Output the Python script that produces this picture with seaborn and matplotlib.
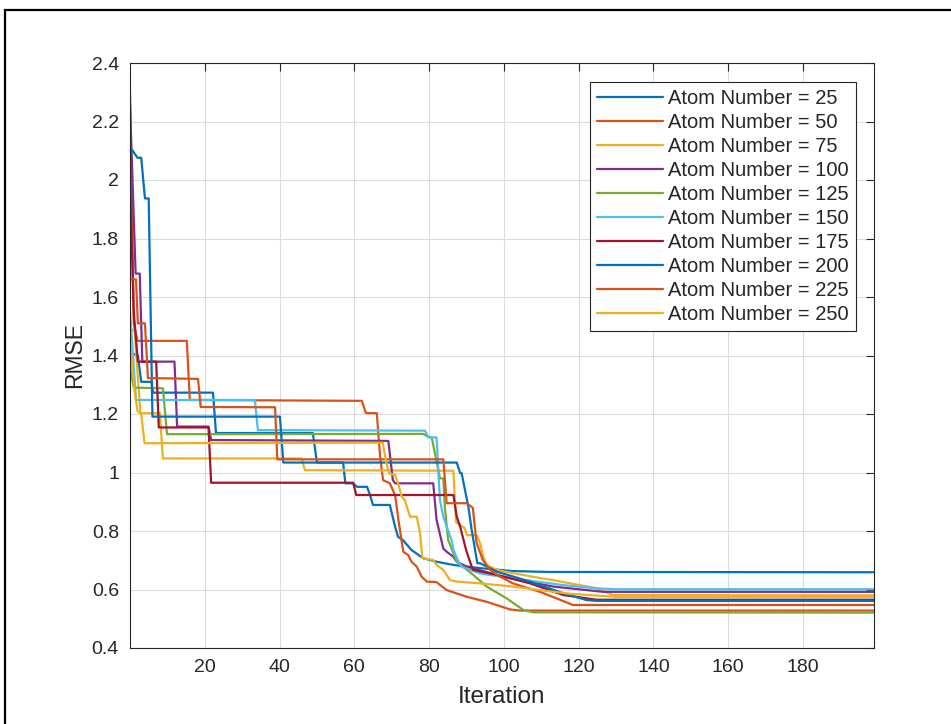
import matplotlib
matplotlib.use("Agg")
import matplotlib.pyplot as plt
from matplotlib.patches import Rectangle
import seaborn as sns
import pandas as pd

# ---------------- data ----------------
labels = ["Atom Number = 25", "Atom Number = 50", "Atom Number = 75",
          "Atom Number = 100", "Atom Number = 125", "Atom Number = 150",
          "Atom Number = 175", "Atom Number = 200", "Atom Number = 225",
          "Atom Number = 250"]
colors = ["#0072BD", "#D95319", "#EDB120", "#7E2F8E", "#77AC30",
          "#4DBEEE", "#A2142F", "#0072BD", "#D95319", "#EDB120"]

x25 = [0, 2.1, 3.0, 5.7, 6.2, 22.2, 23.0, 48.9, 50.0, 57.0, 57.6, 59.7, 60.7, 63.4,
       64.2, 65.0, 69.5, 70.9, 71.7, 73.0, 75.3, 78.4, 82.0, 86.5, 93.6, 102.4, 112, 199]
y25 = [1.41, 1.40, 1.31, 1.31, 1.273, 1.273, 1.135, 1.135, 1.034, 1.034, 0.963, 0.963,
       0.951, 0.951, 0.923, 0.889, 0.889, 0.815, 0.78, 0.769, 0.735, 0.707, 0.695,
       0.684, 0.673, 0.663, 0.66, 0.659]

x50 = [0, 1, 2, 15.2, 16.0, 62.0, 63.1, 66.0, 66.9, 67.7, 69.5, 70.9, 71.8, 73.1, 74.4,
       75.3, 76.7, 78.0, 79.4, 82.0, 84.7, 90.1, 95.4, 101.6, 104.3, 199]
y50 = [2.30, 1.51, 1.45, 1.45, 1.248, 1.245, 1.203, 1.203, 1.054, 0.974, 0.963, 0.923,
       0.838, 0.729, 0.718, 0.695, 0.678, 0.644, 0.627, 0.625, 0.598, 0.575, 0.558,
       0.532, 0.528, 0.528]

x75 = [0, 1.2, 2.8, 8.0, 8.8, 45.9, 46.8, 86.5, 87.2, 89.5, 90.1, 92.7, 93.6, 94.5,
       95.4, 98.1, 102.4, 109.7, 113.2, 124.8, 129.2, 199]
y75 = [1.49, 1.487, 1.203, 1.203, 1.048, 1.048, 1.008, 1.006, 0.83, 0.81, 0.786, 0.786,
       0.76, 0.712, 0.684, 0.667, 0.656, 0.639, 0.632, 0.604, 0.581, 0.58]

x100 = [0, 1.5, 2.6, 3.3, 11.9, 12.6, 21.0, 21.7, 69.1, 70.3, 70.9, 81.1, 82.0, 83.8,
        84.7, 86.5, 87.4, 90.1, 99.8, 113.2, 126.6, 199]
y100 = [2.26, 1.68, 1.68, 1.379, 1.379, 1.157, 1.157, 1.111, 1.108, 0.974, 0.963, 0.963,
        0.838, 0.74, 0.729, 0.712, 0.695, 0.678, 0.644, 0.610, 0.592, 0.592]

x125 = [0, 1.0, 8.8, 9.9, 78.4, 79.8, 80.7, 82.9, 83.8, 84.2, 85.1, 87.4, 91.8, 95.4,
        100.7, 105.2, 107.9, 199]
y125 = [1.36, 1.29, 1.288, 1.131, 1.132, 1.122, 1.12, 0.98, 0.98, 0.883, 0.769, 0.695,
        0.65, 0.61, 0.57, 0.53, 0.522, 0.521]

x150 = [0, 1.6, 33.4, 34.2, 78.9, 79.8, 82.0, 82.5, 82.9, 83.8, 84.7, 86.0, 86.5, 87.7,
        88.7, 93.6, 102.5, 115.9, 124.8, 130, 199]
y150 = [1.55, 1.248, 1.248, 1.145, 1.143, 1.12, 1.12, 0.997, 0.906, 0.849, 0.815, 0.769,
        0.735, 0.70, 0.678, 0.655, 0.638, 0.615, 0.604, 0.601, 0.601]

x175 = [0, 1.0, 2.1, 7.0, 7.7, 21.0, 21.7, 59.7, 60.5, 86.5, 87.4, 88.3, 89.9, 90.5,
        91.4, 91.8, 98.1, 107.0, 115.9, 124.8, 199]
y175 = [1.98, 1.55, 1.379, 1.379, 1.154, 1.154, 0.965, 0.965, 0.923, 0.923, 0.849, 0.815,
        0.735, 0.712, 0.678, 0.667, 0.65, 0.621, 0.581, 0.565, 0.565]

x200 = [0, 2.0, 3.0, 4.0, 5.0, 6.0, 40.1, 41.0, 87.4, 88.3, 88.7, 89.6, 90.5, 91.4, 92.3,
        92.9, 93.6, 98.1, 107.0, 115.9, 122.1, 125, 199]
y200 = [2.114, 2.076, 2.076, 1.937, 1.937, 1.191, 1.191, 1.034, 1.034, 0.998, 0.998, 0.94,
        0.883, 0.803, 0.735, 0.69, 0.69, 0.661, 0.627, 0.587, 0.564, 0.561, 0.561]

x225 = [0, 1.6, 2.1, 4.0, 4.8, 18.2, 18.9, 38.8, 39.4, 83.8, 84.7, 90.1, 91.7, 92.7,
        94.4, 96.3, 99.0, 102.4, 109.7, 118.5, 199]
y225 = [1.66, 1.66, 1.51, 1.51, 1.323, 1.32, 1.224, 1.223, 1.045, 1.045, 0.895, 0.895,
        0.879, 0.759, 0.70, 0.667, 0.644, 0.621, 0.592, 0.547, 0.547]

x250 = [0, 1.0, 2.0, 3.0, 3.9, 67.6, 68.5, 69.3, 70.9, 71.7, 72.7, 73.5, 74.9, 76.7,
        77.6, 78.2, 81.1, 82.0, 83.8, 85.6, 87.4, 93.6, 102.5, 109.7, 118, 130, 199]
y250 = [1.46, 1.30, 1.21, 1.20, 1.10, 1.102, 1.037, 0.997, 0.991, 0.963, 0.917, 0.906,
        0.849, 0.849, 0.792, 0.707, 0.701, 0.684, 0.667, 0.632, 0.627, 0.621, 0.610,
        0.598, 0.585, 0.575, 0.575]

xticks = [20, 40, 60, 80, 100, 120, 140, 160, 180]
yticks = [0.4, 0.6, 0.8, 1.0, 1.2, 1.4, 1.6, 1.8, 2.0, 2.2, 2.4]
ytick_labels = ["0.4", "0.6", "0.8", "1", "1.2", "1.4", "1.6", "1.8", "2", "2.2", "2.4"]

# ---------------- build long-form table ----------------
xs = [x25, x50, x75, x100, x125, x150, x175, x200, x225, x250]
ys = [y25, y50, y75, y100, y125, y150, y175, y200, y225, y250]
rows = []
for lab, xx, yy in zip(labels, xs, ys):
    for i, (a, b) in enumerate(zip(xx, yy)):
        rows.append({"Iteration": a, "RMSE": b, "series": lab, "order": i})
df = pd.DataFrame(rows)

# ---------------- style ----------------
sns.set_style("white")
plt.rcParams["font.family"] = ["Liberation Sans", "DejaVu Sans"]

fig = plt.figure(figsize=(9.51, 7.24), dpi=100)
ax = fig.add_axes([130 / 951, 1 - 648 / 724, 744 / 951, 585 / 724])

sns.lineplot(data=df, x="Iteration", y="RMSE", hue="series", hue_order=labels,
             palette=colors, sort=False, estimator=None, units="series",
             linewidth=1.6, legend=False, ax=ax)

ax.set_xlim(0, 199)
ax.set_ylim(0.4, 2.4)
ax.set_xticks(xticks)
ax.set_xticklabels([str(t) for t in xticks])
ax.set_yticks(yticks)
ax.set_yticklabels(ytick_labels)

ax.grid(True, color="#dcdcdc", linewidth=0.8)
ax.set_axisbelow(True)
for s in ax.spines.values():
    s.set_visible(True)
    s.set_color("#262626")
    s.set_linewidth(0.8)
ax.tick_params(direction="in", length=6, width=0.8, color="#262626",
               top=True, right=True, labelsize=14, labelcolor="#262626", pad=8)

ax.set_xlabel("Iteration", fontsize=17.5, color="#262626", labelpad=7)
ax.set_ylabel("RMSE", fontsize=16.5, color="#262626", labelpad=4)

leg = ax.legend(ax.lines[:len(labels)], labels, loc="upper right",
                bbox_to_anchor=(0.9758, 0.9675), borderaxespad=0,
                fontsize=14.5, frameon=True, fancybox=False, framealpha=1,
                edgecolor="#262626", handlelength=3.3, handletextpad=0.25,
                labelspacing=0.25, borderpad=0.35)
leg.get_frame().set_linewidth(0.8)
for t in leg.get_texts():
    t.set_color("#262626")

# outer frame of the screenshot
fig.add_artist(Rectangle((4.5 / 951, -0.2), 1.5, 1.2 - 9.5 / 724,
                         transform=fig.transFigure, fill=False,
                         edgecolor="black", linewidth=1.6))

fig.savefig("out.png", dpi=100)
